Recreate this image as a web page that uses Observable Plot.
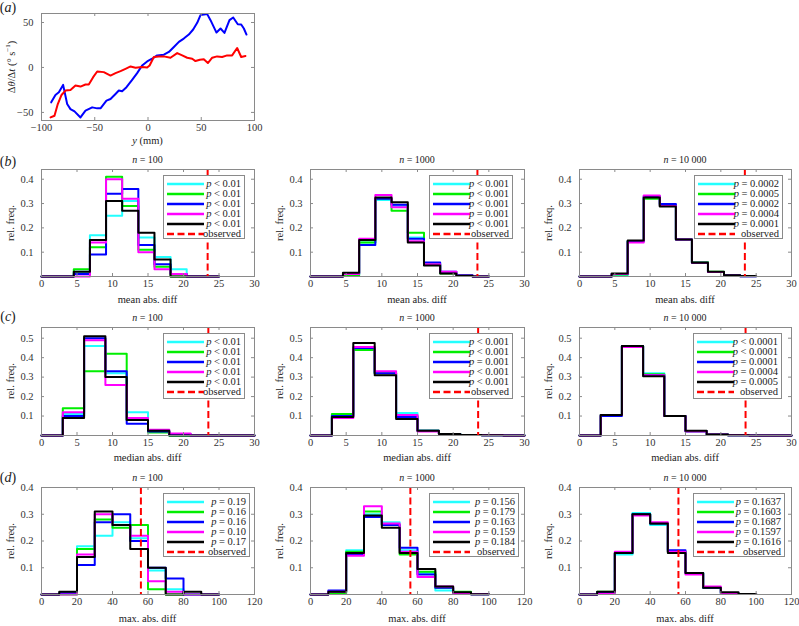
<!DOCTYPE html>
<html><head><meta charset="utf-8">
<script src="https://cdn.jsdelivr.net/npm/d3@7"></script>
<script src="https://cdn.jsdelivr.net/npm/@observablehq/plot@0.6"></script>
<style>
body{margin:0;background:#fff;}
#root{position:relative;width:799px;height:626px;overflow:hidden;font-family:"Liberation Serif","Times New Roman","DejaVu Serif",Times,serif;color:#222;}
.t{position:absolute;white-space:nowrap;transform:translate(-50%,-50%);font-size:10px;line-height:1;}
.rot{transform:translate(-50%,-50%) rotate(-90deg);}
.lg{position:absolute;background:#fff;border:1px solid #8a8a8a;box-sizing:border-box;padding-top:2.5px;}
.row{position:relative;height:10px;font-size:10.5px;line-height:10px;text-align:right;padding-right:3px;}
.row svg{position:absolute;left:3px;top:0;}
.row span{position:relative;}
svg.plot{position:absolute;}
</style></head>
<body><div id="root"></div>
<script>
// ---------- panel (a) data ----------
const aBlueY = [-90.9,-86.9,-83.7,-79.7,-75.9,-72.8,-69,-63.4,-58.7,-52.4,-47.7,-44.6,-39,-35.2,-30.5,-27.4,-24.3,-20.2,-14.9,-10.2,-5.5,-0.8,3.9,8.6,14.9,19.6,24.3,29,33.6,38.3,42.4,46.2,49.3,55.6,58.7,64.3,68.1,71.8,76.5,80,84.3,87.5,90,92.5];
const aBlueRate = [-38.8,-30.6,-27.6,-19.4,-40.7,-46.3,-48.9,-55.6,-48.1,-44.4,-45.5,-45.5,-36.9,-35.1,-29.5,-25.7,-26.5,-22,-13.8,-6.3,2.2,6.7,9.7,13.4,14.2,17.2,22.8,28.4,32.1,36.6,42.2,49.6,58.2,59.3,52.6,38.8,43.3,38.4,52.6,55.6,48.1,47.8,43.3,36.6];
const aRedY = [-91.5,-87.8,-84.7,-81.2,-77.5,-72.8,-68.1,-63.4,-58.7,-55.6,-51.5,-47.7,-41.5,-35.2,-30.5,-25.8,-21.1,-16.4,-11.7,-5.5,-0.8,1.5,5.5,10.2,14.9,21.1,27.4,32.1,36.8,41.5,44.6,48.7,52.4,56.2,60.3,64.9,69.6,74.3,79,83.7,87.5,91.5];
const aRedRate = [-55.6,-53.7,-40.7,-30.6,-25.7,-25,-20.1,-21.3,-19,-19,-10.8,-4.5,-5.2,-9,-6.3,-4.1,-1.5,1.1,-0.4,0.4,0,2.2,11.6,12.3,12.3,10.8,16,13.4,10.8,9.7,7.1,8.6,9,4.9,10.8,12.3,11.6,13.4,13.4,21.6,11.6,12.7];
const aXTicks = [-100,-50,0,50,100];
const aYTicks = [-50,0,50];

// ---------- histogram data (series order: cyan, green, blue, magenta, black) ----------
const seriesColors = ["#22ffff","#00ee00","#0000ff","#ff00ff","#000000"];
const sampleSizes = ["100","1000","10 000"];

const meanEdges = [0,2.27,4.55,6.82,9.09,11.36,13.64,15.91,18.18,20.45,22.73,25];
const meanTicksX = [0,5,10,15,20,25,30];
const meanTicksY = [0.1,0.2,0.3,0.4];
const meanObserved = 23.4;
const mean_n100 = [
  [0,0,0.02,0.17,0.25,0.31,0.16,0.08,0.03,0,0],
  [0,0,0.03,0.12,0.41,0.29,0.11,0.04,0,0,0],
  [0,0,0.01,0.09,0.34,0.36,0.13,0.05,0.01,0,0],
  [0,0,0,0.14,0.40,0.32,0.10,0.03,0.01,0,0],
  [0,0,0.02,0.15,0.31,0.27,0.18,0.07,0,0,0]];
const mean_n1000 = [
  [0,0,0.005,0.14,0.315,0.29,0.16,0.055,0.015,0.003,0],
  [0,0,0.005,0.14,0.32,0.27,0.18,0.05,0.012,0.003,0],
  [0,0,0.01,0.13,0.32,0.295,0.155,0.058,0.02,0.005,0],
  [0,0,0.01,0.155,0.335,0.285,0.145,0.05,0.02,0.003,0],
  [0,0,0.015,0.15,0.325,0.305,0.14,0.045,0.012,0.003,0]];
const mean_n10000 = [
  [0,0,0.005,0.145,0.327,0.295,0.152,0.057,0.018,0.005,0.001],
  [0,0,0.008,0.145,0.32,0.29,0.152,0.06,0.02,0.004,0.001],
  [0,0,0.01,0.145,0.33,0.298,0.152,0.057,0.018,0.005,0.001],
  [0,0,0.01,0.14,0.333,0.29,0.152,0.057,0.018,0.004,0.001],
  [0,0,0.012,0.148,0.325,0.288,0.152,0.057,0.02,0.005,0.002]];
const mean_pLabels = [
  ["< 0.01","< 0.01","< 0.01","< 0.01","< 0.01"],
  ["< 0.001","< 0.001","< 0.001","= 0.001","< 0.001"],
  ["= 0.0002","= 0.0005","= 0.0002","= 0.0004","= 0.0001"]];

const medianEdges = [0,3,6,9,12,15,18,21,24,27,30];
const medianTicksX = [0,5,10,15,20,25,30];
const medianTicksY = [0.1,0.2,0.3,0.4,0.5];
const medianObserved = 23.5;
const median_n100 = [
  [0,0.11,0.46,0.32,0.12,0.02,0,0,0,0],
  [0,0.14,0.33,0.42,0.08,0.015,0,0,0,0],
  [0,0.10,0.50,0.33,0.06,0.02,0.008,0,0,0],
  [0,0.12,0.49,0.26,0.09,0.03,0.01,0,0,0],
  [0,0.09,0.51,0.30,0.08,0.025,0,0,0,0]];
const median_n1000 = [
  [0,0.105,0.445,0.325,0.115,0.025,0.008,0.003,0.001,0.001],
  [0,0.11,0.44,0.32,0.10,0.025,0.008,0.003,0.001,0],
  [0,0.10,0.45,0.32,0.095,0.025,0.008,0.003,0.001,0],
  [0,0.09,0.455,0.33,0.105,0.02,0.005,0.002,0.001,0],
  [0,0.095,0.475,0.31,0.085,0.025,0.008,0.002,0.001,0]];
const median_n10000 = [
  [0,0.105,0.46,0.32,0.10,0.02,0.005,0.001,0,0],
  [0,0.105,0.46,0.315,0.10,0.022,0.006,0.001,0,0],
  [0,0.10,0.46,0.31,0.10,0.022,0.005,0.001,0,0],
  [0,0.105,0.455,0.31,0.10,0.02,0.005,0.001,0,0],
  [0,0.105,0.46,0.305,0.10,0.025,0.005,0.001,0,0]];
const median_pLabels = [
  ["< 0.01","< 0.01","< 0.01","< 0.01","< 0.01"],
  ["< 0.001","< 0.001","= 0.001","< 0.001","< 0.001"],
  ["< 0.0001","< 0.0001","= 0.0001","= 0.0004","= 0.0005"]];

const maxEdges = [0,10,20,30,40,50,60,70,80,90,100];
const maxTicksX = [0,20,40,60,80,100,120];
const maxTicksY = [0.1,0.2,0.3,0.4];
const maxObserved = 56;
const max_n100 = [
  [0,0.005,0.18,0.22,0.27,0.21,0.09,0.02,0,0],
  [0,0,0.17,0.28,0.25,0.26,0.02,0,0,0],
  [0,0.005,0.11,0.27,0.30,0.20,0.10,0.06,0,0],
  [0,0,0.15,0.30,0.26,0.22,0.05,0.01,0,0],
  [0,0.01,0.14,0.31,0.26,0.17,0.10,0,0.01,0]];
const max_n1000 = [
  [0,0.005,0.165,0.30,0.27,0.165,0.08,0.015,0.005,0.001],
  [0,0.005,0.16,0.31,0.26,0.15,0.085,0.025,0.01,0.001],
  [0,0.015,0.15,0.29,0.26,0.175,0.075,0.025,0.005,0.001],
  [0,0.01,0.145,0.33,0.265,0.16,0.065,0.03,0.005,0.001],
  [0,0.01,0.155,0.295,0.25,0.155,0.095,0.03,0.008,0.001]];
const max_n10000 = [
  [0,0.005,0.15,0.305,0.26,0.16,0.08,0.025,0.005,0.002],
  [0,0.01,0.155,0.30,0.265,0.16,0.08,0.025,0.005,0.002],
  [0,0.008,0.155,0.30,0.265,0.165,0.08,0.025,0.005,0.002],
  [0,0.003,0.16,0.295,0.27,0.16,0.075,0.03,0.005,0.002],
  [0,0.01,0.155,0.30,0.265,0.155,0.08,0.025,0.008,0.002]];
const max_pLabels = [
  ["= 0.19","= 0.16","= 0.16","= 0.10","= 0.17"],
  ["= 0.156","= 0.179","= 0.163","= 0.159","= 0.184"],
  ["= 0.1637","= 0.1603","= 0.1687","= 0.1597","= 0.1616"]];

// ---------- layout ----------
const root = document.getElementById("root");
const FONT = "'Liberation Serif', 'Times New Roman', 'DejaVu Serif', Times, serif";
const FRAME = "#8a8a8a";

function addText(html, cx, cy, cls = "", size = 10) {
  const d = document.createElement("div");
  d.className = "t " + cls;
  d.style.left = cx + "px"; d.style.top = cy + "px"; d.style.fontSize = size + "px";
  d.innerHTML = html;
  root.appendChild(d);
  return d;
}
function placeSvg(svg, x, y) {
  svg.classList.add("plot");
  svg.style.left = x + "px"; svg.style.top = y + "px";
  svg.style.background = "transparent";
  root.appendChild(svg);
}
function innerTicks(xTicks, yTicks, W, H) {
  const st = {stroke: FRAME, strokeWidth: 1};
  return [
    Plot.tickX(xTicks, {x: d => d, insetTop: H - 3, ...st}),
    Plot.tickX(xTicks, {x: d => d, insetBottom: H - 3, ...st}),
    Plot.tickY(yTicks, {y: d => d, insetRight: W - 3, ...st}),
    Plot.tickY(yTicks, {y: d => d, insetLeft: W - 3, ...st})
  ];
}

// panel (a)
(function () {
  const L = 41, T = 13, W = 213, H = 107, ml = 40, mr = 8, mt = 4, mb = 22;
  const blue = aBlueY.map((y, i) => ({y, r: aBlueRate[i]}));
  const red = aRedY.map((y, i) => ({y, r: aRedRate[i]}));
  const svg = Plot.plot({
    width: W + ml + mr, height: H + mt + mb,
    marginLeft: ml, marginRight: mr, marginTop: mt, marginBottom: mb,
    style: {fontFamily: FONT, fontSize: "10.5px", color: "#333", overflow: "visible"},
    x: {domain: [-100, 100]},
    y: {domain: [-59, 60]},
    marks: [
      Plot.line(blue, {x: "y", y: "r", stroke: "#0000ff", strokeWidth: 2}),
      Plot.line(red, {x: "y", y: "r", stroke: "#ff0000", strokeWidth: 2}),
      ...innerTicks(aXTicks, aYTicks, W, H),
      Plot.frame({stroke: FRAME}),
      Plot.axisX({ticks: aXTicks, tickSize: 0, tickPadding: 3, label: null}),
      Plot.axisY({ticks: aYTicks, tickSize: 0, tickPadding: 8, label: null})
    ]
  });
  placeSvg(svg, L - ml, T - mt);
  addText("(<i>a</i>)", 8, 8, "", 14);
  addText("<i>y</i> (mm)", L + W / 2, 141, "", 10.5);
  addText("Δ<i>θ</i>/Δ<i>t</i> (° s<sup style='font-size:7px'>−1</sup>)", 11, T + H / 2, "rot", 10.5);
})();

// histogram panels
const cols = [{L: 41, W: 213}, {L: 310, W: 214}, {L: 579, W: 212}];
const rows = [
  {T: 169, H: 107, yMax: 0.44, edges: meanEdges, xDomain: [0, 30], xTicks: meanTicksX, yTicks: meanTicksY,
   obs: meanObserved, data: [mean_n100, mean_n1000, mean_n10000], labels: mean_pLabels,
   xlabel: "mean abs. diff", letter: "b", letterY: 162, titleY: 160, xlabelY: 300,
   legend: [{x: 163, w: 82}, {x: 429, w: 84}, {x: 694, w: 89}], legendT: 175, legendH: 64},
  {T: 327, H: 108, yMax: 0.555, edges: medianEdges, xDomain: [0, 30], xTicks: medianTicksX, yTicks: medianTicksY,
   obs: medianObserved, data: [median_n100, median_n1000, median_n10000], labels: median_pLabels,
   xlabel: "median abs. diff", letter: "c", letterY: 317, titleY: 318, xlabelY: 458,
   legend: [{x: 163, w: 82}, {x: 429, w: 84}, {x: 693, w: 89}], legendT: 333, legendH: 66},
  {T: 487, H: 107, yMax: 0.4, edges: maxEdges, xDomain: [0, 120], xTicks: maxTicksX, yTicks: maxTicksY,
   obs: maxObserved, data: [max_n100, max_n1000, max_n10000], labels: max_pLabels,
   xlabel: "max. abs. diff", letter: "d", letterY: 478, titleY: 478, xlabelY: 619,
   legend: [{x: 163, w: 87}, {x: 429, w: 90}, {x: 693, w: 92}], legendT: 493, legendH: 64}
];

function stairs(edges, vals) {
  const pts = vals.map((v, i) => ({x: edges[i], y: v}));
  pts.push({x: edges[edges.length - 1], y: vals[vals.length - 1]});
  return pts;
}

rows.forEach(row => {
  addText("(<i>" + row.letter + "</i>)", 8, row.letterY, "", 14);
  cols.forEach((col, ci) => {
    const {L, W} = col, {T, H} = row;
    const ml = 40, mr = 8, mt = 4, mb = 22;
    const marks = [];
    row.data[ci].forEach((vals, si) => {
      marks.push(Plot.line(stairs(row.edges, vals), {x: "x", y: "y", curve: "step-after", stroke: seriesColors[si], strokeWidth: 2}));
    });
    marks.push(Plot.ruleX([row.obs], {x: d => d, stroke: "#ff0000", strokeWidth: 2, strokeDasharray: "7,3.5"}));
    marks.push(...innerTicks(row.xTicks, row.yTicks, W, H));
    marks.push(Plot.frame({stroke: FRAME}));
    marks.push(Plot.axisX({ticks: row.xTicks, tickSize: 0, tickPadding: 3, label: null}));
    marks.push(Plot.axisY({ticks: row.yTicks, tickSize: 0, tickPadding: 8, label: null, tickFormat: d3.format(".1f")}));
    const svg = Plot.plot({
      width: W + ml + mr, height: H + mt + mb,
      marginLeft: ml, marginRight: mr, marginTop: mt, marginBottom: mb,
      style: {fontFamily: FONT, fontSize: "10.5px", color: "#333", overflow: "visible"},
      x: {domain: row.xDomain},
      y: {domain: [0, row.yMax]},
      marks
    });
    placeSvg(svg, L - ml, T - mt);
    addText("<i>n</i> = " + sampleSizes[ci], L + W / 2, row.titleY, "", 10);
    addText(row.xlabel, L + W / 2, row.xlabelY, "", 10.5);
    addText("rel. freq.", L - 30, T + H / 2, "rot", 10.5);

    // legend box
    const lg = document.createElement("div");
    lg.className = "lg";
    const lb = row.legend[ci];
    lg.style.left = lb.x + "px"; lg.style.top = row.legendT + "px";
    lg.style.width = lb.w + "px"; lg.style.height = row.legendH + "px";
    const entries = row.labels[ci].map((lab, si) => ({html: "<i>p</i> " + lab.replace("<", "&lt;"), color: seriesColors[si], dash: null}));
    entries.push({html: "observed", color: "#ff0000", dash: "7,3.5"});
    entries.forEach(e => {
      const r = document.createElement("div");
      r.className = "row";
      r.innerHTML = `<svg width="37" height="10"><line x1="0" x2="37" y1="5" y2="5" stroke="${e.color}" stroke-width="2.5" ${e.dash ? `stroke-dasharray="${e.dash}"` : ""}/></svg><span>${e.html}</span>`;
      lg.appendChild(r);
    });
    root.appendChild(lg);
  });
});
</script>
</body></html>
